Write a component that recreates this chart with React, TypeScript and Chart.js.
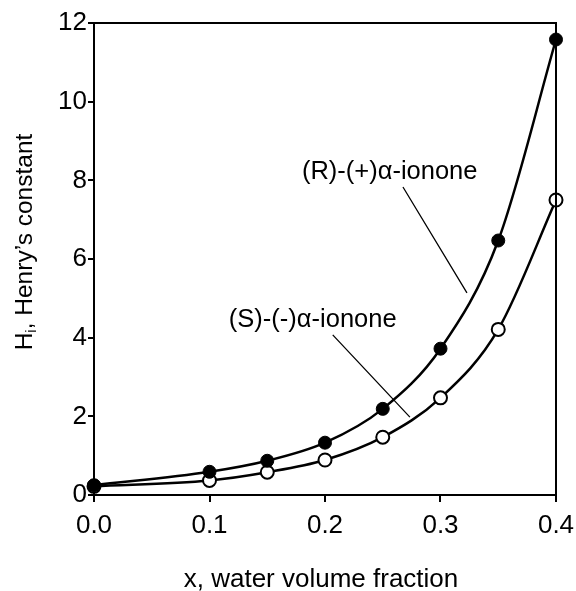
import React, { useEffect, useRef } from "react";
import { Chart, registerables } from "chart.js";

Chart.register(...registerables);

// ---- data ----
const xValues = [0, 0.1, 0.15, 0.2, 0.25, 0.3, 0.35, 0.4];
const rValues = [0.25, 0.59, 0.87, 1.33, 2.19, 3.72, 6.47, 11.58];
const sValues = [0.22, 0.37, 0.58, 0.89, 1.47, 2.47, 4.21, 7.5];
const yTickValues = [0, 2, 4, 6, 8, 10, 12];
const xTickValues = [0, 0.1, 0.2, 0.3, 0.4];

const rName = "(R)-(+)\u03B1-ionone";
const sName = "(S)-(-)\u03B1-ionone";
const xTitle = "x, water volume fraction";
const yTitleMain = "H";
const yTitleSub = "i";
const yTitleRest = ", Henry\u2019s constant";

const FONT = "'Liberation Sans', Arial, Helvetica, sans-serif";

const overlayPlugin = {
  id: "overlay",
  afterDatasetsDraw(chart: any) {
    const { ctx, chartArea, scales } = chart;
    const xs = scales.x;
    const ys = scales.y;
    ctx.save();
    // top and right frame
    ctx.strokeStyle = "#000";
    ctx.lineWidth = 2;
    ctx.beginPath();
    ctx.moveTo(chartArea.left, chartArea.top);
    ctx.lineTo(chartArea.right, chartArea.top);
    ctx.lineTo(chartArea.right, chartArea.bottom);
    ctx.stroke();

    // annotation labels
    ctx.fillStyle = "#000";
    ctx.font = `25.5px ${FONT}`;
    ctx.textAlign = "center";
    ctx.textBaseline = "middle";
    ctx.fillText(rName, xs.getPixelForValue(0.256), ys.getPixelForValue(8.21));
    ctx.fillText(sName, xs.getPixelForValue(0.1894), ys.getPixelForValue(4.45));

    // leader lines
    ctx.lineWidth = 1.3;
    ctx.beginPath();
    ctx.moveTo(xs.getPixelForValue(0.2675), ys.getPixelForValue(7.83));
    ctx.lineTo(xs.getPixelForValue(0.3229), ys.getPixelForValue(5.14));
    ctx.moveTo(xs.getPixelForValue(0.2067), ys.getPixelForValue(4.07));
    ctx.lineTo(xs.getPixelForValue(0.2735), ys.getPixelForValue(1.98));
    ctx.stroke();

    // x axis title
    ctx.font = `26px ${FONT}`;
    ctx.textAlign = "center";
    ctx.textBaseline = "middle";
    ctx.fillText(xTitle, 321, 580);

    // y axis title (rotated, with subscript)
    ctx.translate(25, 242);
    ctx.rotate(-Math.PI / 2);
    ctx.textAlign = "left";
    ctx.textBaseline = "middle";
    const bigFont = `24.5px ${FONT}`;
    const smallFont = `15px ${FONT}`;
    ctx.font = bigFont;
    const wMain = ctx.measureText(yTitleMain).width;
    const wRest = ctx.measureText(yTitleRest).width;
    ctx.font = smallFont;
    const wSub = ctx.measureText(yTitleSub).width;
    const total = wMain + wSub + wRest;
    let cx = -total / 2;
    ctx.font = bigFont;
    ctx.fillText(yTitleMain, cx, 0);
    cx += wMain;
    ctx.font = smallFont;
    ctx.fillText(yTitleSub, cx, 7);
    cx += wSub;
    ctx.font = bigFont;
    ctx.fillText(yTitleRest, cx, 0);
    ctx.restore();
  },
};

export default function App() {
  const canvasRef = useRef<HTMLCanvasElement | null>(null);

  useEffect(() => {
    const canvas = canvasRef.current;
    if (!canvas) return;
    const rData = xValues.map((x, i) => ({ x, y: rValues[i] }));
    const sData = xValues.map((x, i) => ({ x, y: sValues[i] }));
    const chart = new Chart(canvas, {
      type: "line",
      data: {
        datasets: [
          {
            label: rName,
            data: rData,
            borderColor: "#000",
            borderWidth: 2.5,
            backgroundColor: "#000",
            pointBackgroundColor: "#000",
            pointBorderColor: "#000",
            pointBorderWidth: 1,
            pointRadius: 6.5,
            cubicInterpolationMode: "monotone",
            clip: false as any,
          },
          {
            label: sName,
            data: sData,
            borderColor: "#000",
            borderWidth: 2.5,
            backgroundColor: "#fff",
            pointBackgroundColor: "#fff",
            pointBorderColor: "#000",
            pointBorderWidth: 2,
            pointRadius: 6.5,
            cubicInterpolationMode: "monotone",
            clip: false as any,
          },
        ],
      },
      options: {
        animation: false,
        responsive: true,
        maintainAspectRatio: false,
        layout: { padding: { top: 23, right: 20, left: 0, bottom: 0 } },
        plugins: {
          legend: { display: false },
          tooltip: { enabled: false },
        },
        events: [],
        scales: {
          x: {
            type: "linear",
            min: 0,
            max: 0.4,
            afterFit: (s: any) => {
              s.height = 96;
              s.paddingLeft = 0;
              s.paddingRight = 0;
            },
            afterBuildTicks: (s: any) => {
              s.ticks = xTickValues.map((v) => ({ value: v }));
            },
            ticks: {
              color: "#000",
              font: { family: FONT, size: 26 },
              padding: 8,
              maxRotation: 0,
              callback: (v: any) => Number(v).toFixed(1),
            },
            grid: {
              display: true,
              drawOnChartArea: false,
              drawTicks: true,
              tickLength: 7,
              color: "#000",
              lineWidth: 2,
            },
            border: { display: true, color: "#000", width: 2 },
          },
          y: {
            type: "linear",
            min: 0,
            max: 12,
            afterFit: (s: any) => {
              s.width = 94;
              s.paddingTop = 0;
              s.paddingBottom = 0;
            },
            afterBuildTicks: (s: any) => {
              s.ticks = yTickValues.map((v) => ({ value: v }));
            },
            ticks: {
              color: "#000",
              font: { family: FONT, size: 26 },
              padding: 1,
              callback: (v: any) => String(v),
            },
            grid: {
              display: true,
              drawOnChartArea: false,
              drawTicks: true,
              tickLength: 6,
              color: "#000",
              lineWidth: 2,
            },
            border: { display: true, color: "#000", width: 2 },
          },
        },
      },
      plugins: [overlayPlugin],
    });
    return () => chart.destroy();
  }, []);

  return (
    <div
      style={{
        position: "fixed",
        left: 0,
        top: 0,
        width: 576,
        height: 591,
        background: "#fff",
      }}
    >
      <canvas ref={canvasRef} />
    </div>
  );
}
